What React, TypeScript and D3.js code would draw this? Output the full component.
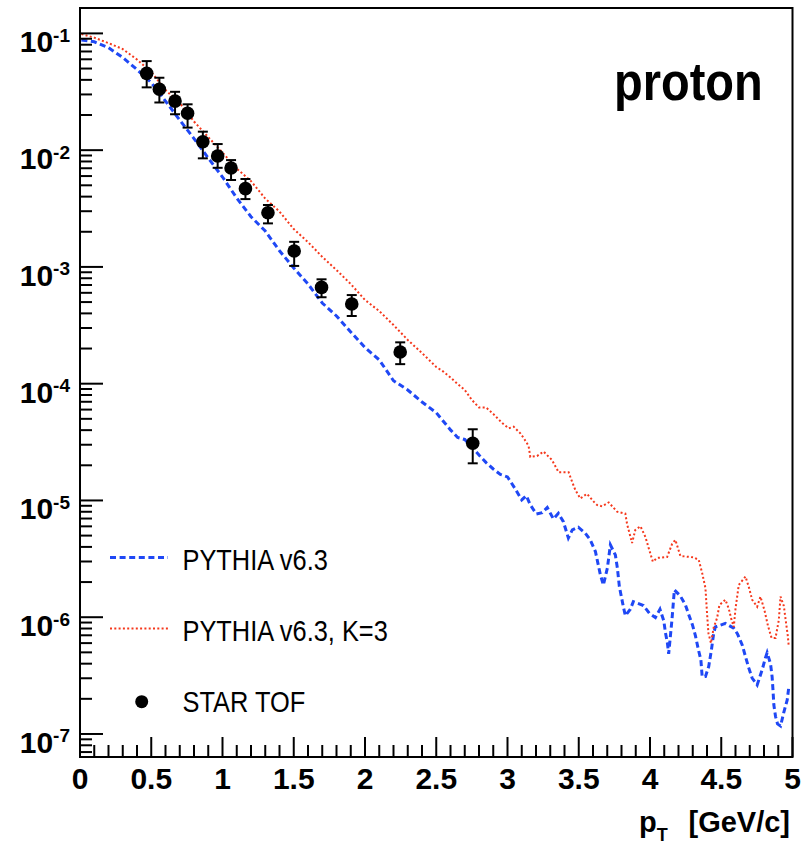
import React from "react";
import * as d3 from "d3";

// ---------- data ----------
const blueCurve: [number, number][] = [
  [0.01, 0.0877], [0.1, 0.0847], [0.2, 0.0755], [0.3, 0.0621], [0.4, 0.049], [0.5, 0.0379],
  [0.6, 0.0263], [0.7, 0.0181], [0.8, 0.01257], [0.9, 0.00855], [1.0, 0.00589], [1.1, 0.00389],
  [1.2, 0.00269], [1.3, 0.00203], [1.4, 0.001374], [1.5, 9.8e-4], [1.6, 7.15e-4], [1.7, 4.91e-4],
  [1.8, 3.8e-4], [1.9, 2.77e-4], [2.0, 2.04e-4], [2.1, 1.6e-4], [2.2, 1.06e-4], [2.3, 8.83e-5],
  [2.4, 6.97e-5], [2.5, 5.64e-5], [2.6, 4.02e-5], [2.65, 3.46e-5], [2.7, 3.33e-5], [2.75, 2.87e-5],
  [2.8, 2.45e-5], [2.85, 2.11e-5], [2.9, 1.86e-5], [2.95, 1.67e-5], [3.0, 1.59e-5], [3.05, 1.28e-5],
  [3.1, 1.01e-5], [3.132, 1.1e-5], [3.16, 9.17e-6], [3.202, 7.66e-6], [3.244, 7.86e-6], [3.279, 8.71e-6],
  [3.322, 6.95e-6], [3.357, 7.77e-6], [3.392, 6.58e-6], [3.427, 4.77e-6], [3.455, 5.59e-6], [3.497, 5.9e-6],
  [3.546, 5.24e-6], [3.581, 4.59e-6], [3.617, 3.65e-6], [3.652, 2.3e-6], [3.673, 1.89e-6], [3.701, 2.64e-6],
  [3.722, 4.16e-6], [3.757, 3.41e-6], [3.771, 2.64e-6], [3.785, 1.83e-6], [3.799, 1.5e-6], [3.813, 1.23e-6],
  [3.827, 1.03e-6], [3.862, 1.17e-6], [3.883, 1.36e-6], [3.954, 1.26e-6], [3.996, 1.08e-6], [4.038, 9.95e-7],
  [4.07, 1.17e-6], [4.097, 9.29e-7], [4.108, 7.41e-7], [4.122, 6.03e-7], [4.131, 4.85e-7], [4.154, 9.48e-7],
  [4.171, 1.71e-6], [4.213, 1.52e-6], [4.249, 1.27e-6], [4.272, 1.05e-6], [4.298, 8.59e-7], [4.319, 6.92e-7],
  [4.34, 5.25e-7], [4.357, 4.31e-7], [4.366, 3.1e-7], [4.389, 3.1e-7], [4.412, 3.78e-7], [4.431, 5.25e-7],
  [4.447, 7.3e-7], [4.459, 8.26e-7], [4.529, 8.85e-7], [4.588, 8.05e-7], [4.614, 7.2e-7], [4.647, 5.79e-7],
  [4.67, 4.6e-7], [4.693, 3.68e-7], [4.717, 3.01e-7], [4.752, 2.63e-7], [4.787, 3.54e-7], [4.81, 4.48e-7],
  [4.822, 4.97e-7], [4.846, 3.98e-7], [4.857, 3.08e-7], [4.863, 2.39e-7], [4.869, 1.78e-7], [4.881, 1.41e-7],
  [4.895, 1.22e-7], [4.916, 1.17e-7], [4.939, 1.53e-7], [4.963, 1.96e-7], [4.974, 2.51e-7],
];

const redCurve: [number, number][] = [
  [0.01, 0.0986], [0.1, 0.092], [0.2, 0.0826], [0.3, 0.0734], [0.4, 0.0597], [0.5, 0.0467],
  [0.6, 0.0327], [0.7, 0.0253], [0.8, 0.0176], [0.9, 0.01295], [1.0, 0.00953], [1.1, 0.00695],
  [1.2, 0.00543], [1.3, 0.00385], [1.4, 0.00298], [1.5, 0.00211], [1.6, 0.00163], [1.7, 0.00122],
  [1.8, 9.4e-4], [1.9, 7.14e-4], [2.0, 5.21e-4], [2.1, 4.19e-4], [2.2, 3.18e-4], [2.3, 2.37e-4],
  [2.4, 1.83e-4], [2.5, 1.39e-4], [2.55, 1.27e-4], [2.6, 1.13e-4], [2.65, 9.94e-5], [2.7, 8.83e-5],
  [2.75, 7.25e-5], [2.8, 6.25e-5], [2.85, 6.25e-5], [2.9, 5.51e-5], [2.963, 4.6e-5], [3.008, 4.15e-5],
  [3.043, 4.28e-5], [3.09, 3.76e-5], [3.118, 3.36e-5], [3.148, 2.93e-5], [3.16, 2.36e-5], [3.207, 2.4e-5],
  [3.253, 2.62e-5], [3.312, 2.22e-5], [3.359, 1.74e-5], [3.429, 1.74e-5], [3.453, 1.45e-5], [3.476, 1.23e-5],
  [3.511, 1.04e-5], [3.558, 1.14e-5], [3.605, 9.77e-6], [3.628, 9.16e-6], [3.664, 8.89e-6], [3.71, 9.62e-6],
  [3.769, 8.02e-6], [3.827, 7.71e-6], [3.839, 6.29e-6], [3.85, 5.59e-6], [3.874, 4.32e-6], [3.897, 5.59e-6],
  [3.933, 6.01e-6], [3.968, 4.86e-6], [3.991, 3.9e-6], [4.02, 2.99e-6], [4.05, 3.22e-6], [4.12, 3.28e-6],
  [4.155, 4.24e-6], [4.178, 4.59e-6], [4.213, 3.35e-6], [4.307, 3.25e-6], [4.342, 3.1e-6], [4.366, 2.39e-6],
  [4.389, 1.78e-6], [4.4, 1.09e-6], [4.41, 7.3e-7], [4.428, 5.99e-7], [4.447, 8.17e-7], [4.471, 9.86e-7],
  [4.487, 1.27e-6], [4.529, 1.41e-6], [4.553, 1.18e-6], [4.572, 9.48e-7], [4.588, 8.26e-7], [4.6, 1.18e-6],
  [4.623, 1.89e-6], [4.67, 2.23e-6], [4.693, 1.82e-6], [4.717, 1.41e-6], [4.752, 1.23e-6], [4.775, 1.5e-6],
  [4.803, 1.15e-6], [4.828, 8.42e-7], [4.853, 6.65e-7], [4.881, 6.65e-7], [4.904, 9.48e-7], [4.916, 1.5e-6],
  [4.939, 1.25e-6], [4.954, 9.12e-7], [4.967, 6.92e-7], [4.974, 5.6e-7],
];

const starPt = [0.468, 0.557, 0.667, 0.755, 0.862, 0.966, 1.06, 1.161, 1.319, 1.503, 1.695, 1.907, 2.247, 2.756];
const starVal = [0.0455, 0.0332, 0.0263, 0.0207, 0.0118, 0.00891, 0.00703, 0.00468, 0.00291, 0.00137, 6.68e-4, 4.81e-4, 1.87e-4, 3.09e-5];
const starLo = [0.0345, 0.0256, 0.0203, 0.0156, 0.00851, 0.00706, 0.00555, 0.00381, 0.00236, 0.00102, 5.5e-4, 3.8e-4, 1.47e-4, 2.08e-5];
const starHi = [0.0579, 0.0417, 0.0316, 0.0247, 0.0144, 0.01128, 0.00822, 0.00566, 0.00339, 0.00164, 7.83e-4, 5.74e-4, 2.26e-4, 4.07e-5];

const xTickValues = [0, 0.5, 1, 1.5, 2, 2.5, 3, 3.5, 4, 4.5, 5];
const xTickLabels = ["0", "0.5", "1", "1.5", "2", "2.5", "3", "3.5", "4", "4.5", "5"];
const yDecadeExps = [-7, -6, -5, -4, -3, -2, -1];
const legendLabels = ["PYTHIA v6.3", "PYTHIA v6.3, K=3", "STAR TOF"];

const xDomain: [number, number] = [0, 5];
const yDomain: [number, number] = [6.35e-8, 0.165];

// ---------- layout ----------
const W = 801;
const H = 845;
const L = 80;
const R = 792.5;
const T = 8;
const B = 757;
const FONT = "'Liberation Sans', Arial, Helvetica, sans-serif";
const BLUE = "#1f48f5";
const RED = "#f5381c";

export default function App() {
  const x = d3.scaleLinear().domain(xDomain).range([L, R]);
  const y = d3.scaleLog().domain(yDomain).range([B, T]);

  const line = d3
    .line<[number, number]>()
    .x((d) => x(d[0]))
    .y((d) => y(d[1]));

  const xMinor = d3.range(0, 51).map((i) => i / 10).filter((v) => Math.abs(v * 2 - Math.round(v * 2)) > 1e-6);
  const yMinor: number[] = [];
  for (let k = -8; k <= 0; k++) {
    for (let m = 2; m <= 9; m++) {
      const v = m * Math.pow(10, k);
      if (v >= yDomain[0] && v <= yDomain[1]) yMinor.push(v);
    }
  }

  return (
    <svg
      width={W}
      height={H}
      style={{ position: "absolute", left: 0, top: 0, background: "#fff" }}
      fontFamily={FONT}
    >
      <rect x={0} y={0} width={W} height={H} fill="#fff" />
      <defs>
        <clipPath id="plotClip">
          <rect x={L} y={T} width={R - L} height={B - T} />
        </clipPath>
      </defs>

      {/* curves */}
      <g clipPath="url(#plotClip)">
        <path d={line(blueCurve) || ""} fill="none" stroke={BLUE} strokeWidth={3} strokeDasharray="6 3.5" />
        <path d={line(redCurve) || ""} fill="none" stroke={RED} strokeWidth={2} strokeDasharray="2 2.3" />
      </g>

      {/* data points */}
      <g>
        {starPt.map((p, i) => {
          const cx = x(p);
          return (
            <g key={i}>
              <line x1={cx} x2={cx} y1={y(starLo[i])} y2={y(starHi[i])} stroke="#000" strokeWidth={2} />
              <line x1={cx - 5} x2={cx + 5} y1={y(starLo[i])} y2={y(starLo[i])} stroke="#000" strokeWidth={2} />
              <line x1={cx - 5} x2={cx + 5} y1={y(starHi[i])} y2={y(starHi[i])} stroke="#000" strokeWidth={2} />
              <circle cx={cx} cy={y(starVal[i])} r={6.8} fill="#000" />
            </g>
          );
        })}
      </g>

      {/* frame */}
      <rect x={L} y={T} width={R - L} height={B - T} fill="none" stroke="#000" strokeWidth={2} />

      {/* x ticks */}
      {xTickValues.map((v) => (
        <line key={"xM" + v} x1={x(v)} x2={x(v)} y1={B} y2={B - 20} stroke="#000" strokeWidth={2} />
      ))}
      {xMinor.map((v) => (
        <line key={"xm" + v} x1={x(v)} x2={x(v)} y1={B} y2={B - 12} stroke="#000" strokeWidth={2} />
      ))}
      {xTickValues.map((v, i) => (
        <text key={"xl" + v} x={x(v)} y={789} textAnchor="middle" fontSize={30} fontWeight="bold">
          {xTickLabels[i]}
        </text>
      ))}

      {/* y ticks */}
      {yDecadeExps.map((e) => (
        <line key={"yM" + e} x1={L} x2={L + 23} y1={y(Math.pow(10, e))} y2={y(Math.pow(10, e))} stroke="#000" strokeWidth={2} />
      ))}
      {yMinor.map((v, i) => (
        <line key={"ym" + i} x1={L} x2={L + 12} y1={y(v)} y2={y(v)} stroke="#000" strokeWidth={2} />
      ))}
      {yDecadeExps.map((e) => (
        <text key={"yl" + e} x={70} y={y(Math.pow(10, e)) + 19} textAnchor="end" fontSize={30} fontWeight="bold">
          10
          <tspan dy={-10.5} fontSize={19}>
            {String(e)}
          </tspan>
        </text>
      ))}

      {/* axis title */}
      <text x={639} y={831.5} fontSize={29} fontWeight="bold">
        p
        <tspan dy={9} fontSize={18}>
          T
        </tspan>
      </text>
      <text x={790} y={831.5} textAnchor="end" fontSize={29} fontWeight="bold">
        [GeV/c]
      </text>

      {/* proton label */}
      <text transform="translate(614,100) scale(1,1.15)" fontSize={47} fontWeight="bold">
        proton
      </text>

      {/* legend */}
      <line x1={110} x2={168} y1={557.5} y2={557.5} stroke={BLUE} strokeWidth={3} strokeDasharray="6 3.6" />
      <text transform="translate(182.5,570) scale(1,1.14)" fontSize={25.4}>
        {legendLabels[0]}
      </text>
      <line x1={110} x2={168} y1={628.5} y2={628.5} stroke={RED} strokeWidth={2} strokeDasharray="2 2.3" />
      <text transform="translate(182.5,640.5) scale(1,1.14)" fontSize={25.4}>
        {legendLabels[1]}
      </text>
      <circle cx={141.7} cy={701.7} r={6.5} fill="#000" />
      <text transform="translate(182.5,711.5) scale(1,1.14)" fontSize={25.4}>
        {legendLabels[2]}
      </text>
    </svg>
  );
}
